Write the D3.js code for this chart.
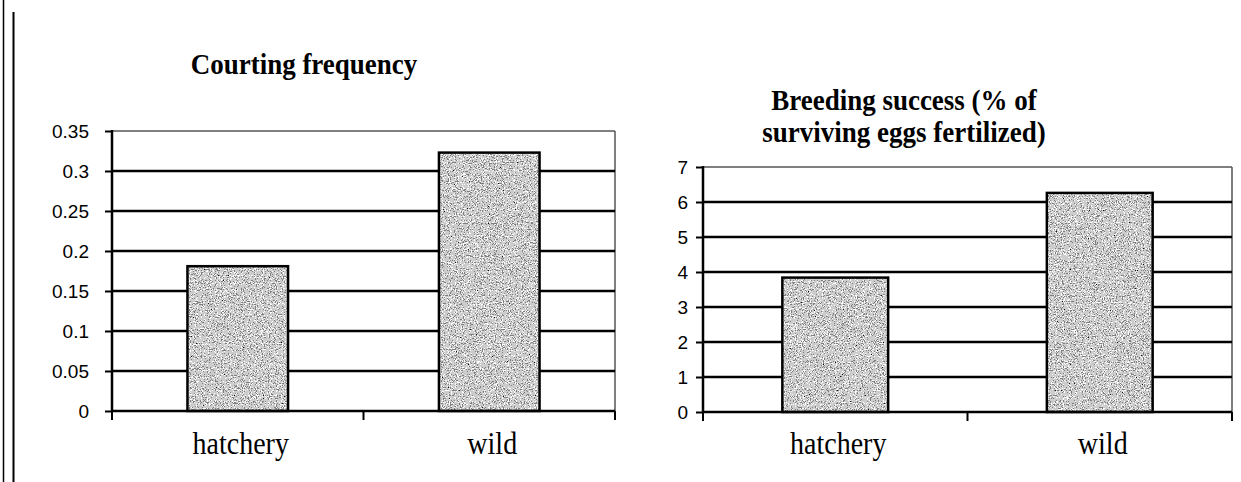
<!DOCTYPE html>
<html><head><meta charset="utf-8">
<script src="https://cdn.jsdelivr.net/npm/d3@7"></script>
<style>html,body{margin:0;padding:0;background:#fff;}svg{display:block;}</style>
</head><body>
<script>
const categories = ["hatchery", "wild"];
const courtingValues = [0.181, 0.323];
const courtingTicks = [0, 0.05, 0.1, 0.15, 0.2, 0.25, 0.3, 0.35];
const courtingTickLabels = ["0", "0.05", "0.1", "0.15", "0.2", "0.25", "0.3", "0.35"];
const breedingValues = [3.84, 6.26];
const breedingTicks = [0, 1, 2, 3, 4, 5, 6, 7];
const breedingTickLabels = ["0", "1", "2", "3", "4", "5", "6", "7"];
const courtingTitle = ["Courting frequency"];
const breedingTitle = ["Breeding success (% of", "surviving eggs fertilized)"];

const W = 1241, H = 482;
const svg = d3.select("body").append("svg").attr("width", W).attr("height", H);

// stipple texture
const defs = svg.append("defs");
const f = defs.append("filter").attr("id", "stipple")
  .attr("x", 0).attr("y", 0).attr("width", "100%").attr("height", "100%")
  .attr("filterUnits", "objectBoundingBox")
  .attr("color-interpolation-filters", "sRGB");
f.append("feTurbulence").attr("type", "fractalNoise").attr("baseFrequency", 0.85)
  .attr("numOctaves", 2).attr("seed", 7).attr("result", "n");
f.append("feColorMatrix").attr("in", "n").attr("type", "matrix")
  .attr("values", "0.6 0.2 0.2 0 0  0.6 0.2 0.2 0 0  0.6 0.2 0.2 0 0  0 0 0 0 1").attr("result", "g");
const ct = f.append("feComponentTransfer").attr("in", "g").attr("result", "d");
["feFuncR", "feFuncG", "feFuncB"].forEach(k =>
  ct.append(k).attr("type", "discrete").attr("tableValues", "0 0.05 0.5 0.8 1 1 1"));
f.append("feComposite").attr("in", "d").attr("in2", "SourceGraphic").attr("operator", "in");

// left double border
svg.append("line").attr("x1", 3.5).attr("x2", 3.5).attr("y1", 0).attr("y2", H).attr("stroke", "#000").attr("stroke-width", 1.5);
svg.append("line").attr("x1", 13.5).attr("x2", 13.5).attr("y1", 12).attr("y2", H).attr("stroke", "#000").attr("stroke-width", 2);

function panel(cfg) {
  const g = svg.append("g");
  const x = d3.scaleBand().domain(categories).range([cfg.x0, cfg.x1]).paddingInner(0.6).paddingOuter(0.3);
  const y = d3.scaleLinear().domain([0, cfg.max]).range([cfg.yb, cfg.yt]);
  const step = x.step();

  // title (slightly tall letterforms, as in the scan)
  cfg.title.forEach((s, i) => {
    g.append("text")
      .attr("transform", `translate(${cfg.tx},${cfg.ty + i * 32}) scale(1,1.12)`)
      .attr("text-anchor", "middle")
      .attr("font-family", "Liberation Serif, Times New Roman, serif").attr("font-weight", "bold")
      .attr("font-size", 27).attr("fill", "#000").text(s);
  });

  // plot border (top, right)
  g.append("line").attr("x1", cfg.x0).attr("x2", cfg.x1).attr("y1", y(cfg.max)).attr("y2", y(cfg.max))
    .attr("stroke", "#555").attr("stroke-width", 1.5);
  g.append("line").attr("x1", cfg.x1).attr("x2", cfg.x1).attr("y1", y(cfg.max)).attr("y2", y(0))
    .attr("stroke", "#555").attr("stroke-width", 1.5);

  // gridlines
  g.selectAll(".grid").data(cfg.ticks.filter(v => v > 0 && v < cfg.max)).enter().append("line")
    .attr("x1", cfg.x0).attr("x2", cfg.x1).attr("y1", d => y(d)).attr("y2", d => y(d))
    .attr("stroke", "#000").attr("stroke-width", 2.5);

  // y axis
  const ya = d3.axisLeft(y).tickValues(cfg.ticks).tickSize(7).tickPadding(cfg.pad)
    .tickFormat((d, i) => cfg.labels[i]);
  const yg = g.append("g").attr("transform", `translate(${cfg.x0},0)`).call(ya);
  yg.select(".domain").remove();
  yg.selectAll(".tick line").attr("stroke", "#000").attr("stroke-width", 2);
  yg.selectAll(".tick text").attr("font-family", "Liberation Sans, Arial, sans-serif")
    .attr("font-size", 19).attr("fill", "#000");
  g.append("line").attr("x1", cfg.x0).attr("x2", cfg.x0).attr("y1", y(cfg.max) - 1).attr("y2", y(0) + 1)
    .attr("stroke", "#000").attr("stroke-width", 2.5);

  // bars
  const data = categories.map((c, i) => ({ c, v: cfg.values[i] }));
  g.selectAll(".barfill").data(data).enter().append("rect")
    .attr("x", d => x(d.c)).attr("y", d => y(d.v)).attr("width", x.bandwidth())
    .attr("height", d => y(0) - y(d.v)).attr("fill", "#aaaaaa");
  g.selectAll(".bartex").data(data).enter().append("rect")
    .attr("x", d => x(d.c)).attr("y", d => y(d.v)).attr("width", x.bandwidth())
    .attr("height", d => y(0) - y(d.v)).attr("fill", "#000").attr("filter", "url(#stipple)");
  g.selectAll(".barline").data(data).enter().append("rect")
    .attr("x", d => x(d.c)).attr("y", d => y(d.v)).attr("width", x.bandwidth())
    .attr("height", d => y(0) - y(d.v)).attr("fill", "none").attr("stroke", "#000").attr("stroke-width", 2.5);

  // x axis
  g.append("line").attr("x1", cfg.x0).attr("x2", cfg.x1).attr("y1", y(0)).attr("y2", y(0))
    .attr("stroke", "#000").attr("stroke-width", 2.5);
  const bounds = [0, 1, 2].map(i => cfg.x0 + i * step);
  g.selectAll(".xt").data(bounds).enter().append("line")
    .attr("x1", d => d).attr("x2", d => d).attr("y1", y(0)).attr("y2", y(0) + 9)
    .attr("stroke", "#000").attr("stroke-width", 2);
  g.selectAll(".xl").data(categories).enter().append("text")
    .attr("transform", d => `translate(${x(d) + x.bandwidth() / 2 + 3},454) scale(1,1.1)`)
    .attr("text-anchor", "middle")
    .attr("font-family", "Liberation Serif, Times New Roman, serif").attr("font-size", 28).attr("fill", "#000")
    .text(d => d);
}

panel({ x0: 112, x1: 615, yt: 131, yb: 411, max: 0.35, values: courtingValues, ticks: courtingTicks,
  labels: courtingTickLabels, title: courtingTitle, tx: 304, ty: 74, pad: 16 });
panel({ x0: 703, x1: 1232, yt: 167, yb: 412, max: 7, values: breedingValues, ticks: breedingTicks,
  labels: breedingTickLabels, title: breedingTitle, tx: 904, ty: 110, pad: 8 });
</script>
</body></html>
